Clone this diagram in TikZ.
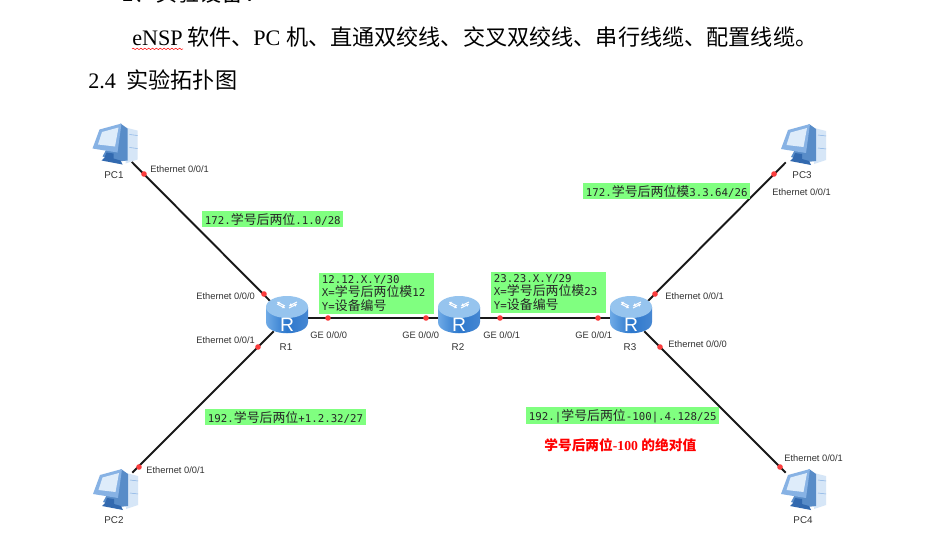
\documentclass[tikz,border=0pt]{standalone}
\usepackage{fontspec}
\setmainfont{Liberation Serif}
\setsansfont{Liberation Sans}
\newfontfamily\cnfont{Noto Sans CJK SC}
\newfontfamily\labcjk[Scale=1.2]{Noto Sans CJK SC}
\newfontfamily\labmono{DejaVu Sans Mono}
\newcommand{\cn}[1]{{\cnfont #1}}
\newcommand{\lc}[1]{{\labcjk #1}}
\usetikzlibrary{positioning,arrows.meta,decorations.pathmorphing}
\definecolor{ipgreen}{RGB}{128,255,128}
\definecolor{linkblack}{RGB}{25,25,25}
\definecolor{labgray}{RGB}{50,50,50}
\definecolor{portred}{RGB}{250,60,60}
\definecolor{pctower}{RGB}{214,230,247}
\definecolor{pcside}{RGB}{88,140,200}
\definecolor{pcframe}{RGB}{135,178,228}
\definecolor{pcscreen}{RGB}{222,236,250}
\definecolor{pcstand}{RGB}{50,105,175}
\definecolor{routertop}{RGB}{150,196,238}
\tikzset{
    bodytext/.style={anchor=base west,inner sep=0pt,font=\fontsize{12.6}{15}\selectfont},
    ipbox/.style={anchor=north west,fill=ipgreen,text=black!85,inner xsep=1.5pt,inner ysep=1pt,align=left,font=\labmono\fontsize{6.12}{7.9}\selectfont},
    iflabel/.style={anchor=west,inner sep=0pt,text=labgray,font=\sffamily\fontsize{5.3}{6}\selectfont},
    devlabel/.style={inner sep=0pt,text=labgray,font=\sffamily\fontsize{5.6}{7}\selectfont},
    pcnode/.style={minimum width=0.68cm,minimum height=0.68cm,inner sep=0pt},
    routernode/.style={minimum width=0.84cm,minimum height=0.52cm,inner sep=0pt},
    link/.style={draw=linkblack,line width=1.1pt},
    pics/pcicon/.style={code={
        \begin{scope}[shift={(-22,-22)}]
            \fill[pctower] (33,5) -- (45,8) -- (45,37) -- (33,41) -- cycle;
            \fill[pcside] (28,1) -- (35,6) -- (35,38) -- (26,39) -- (10,34) -- cycle;
            \fill[pcframe] (7,7) -- (29,1) -- (25,30) -- (0,26) -- cycle;
            \fill[pcscreen] (9.5,9.5) -- (26,5) -- (22.5,24) -- (5.5,22) -- cycle;
            \fill[pcstand] (12,35) -- (9,38) -- (30,42) -- (28,38) -- (21,36) -- (21,31) -- (14,30) -- cycle;
            \draw[pcframe,line width=0.3pt] (37,12) -- (45,13) (37,25) -- (45,26);
        \end{scope}
    }},
    pics/routericon/.style={code={
        \shade[left color={rgb,255:red,110;green,170;blue,230},right color={rgb,255:red,70;green,135;blue,210},middle color={rgb,255:red,45;green,120;blue,205}]
            (-21,-11) -- (-21,4) .. controls (-21,19) and (21,19) .. (21,4) -- (21,-11) -- cycle;
        \fill[routertop] (0,-11) ellipse (21 and 11);
        \foreach \dx/\dy in {-2/-12,2/-10} {
            \draw[white,line width=0.6pt,-{Stealth[length=1.8pt,width=2pt]}] (\dx,\dy) -- (5*\dx,\dy-4);
            \draw[white,line width=0.6pt,{Stealth[length=1.8pt,width=2pt]}-] (-\dx,\dy) -- (-5*\dx,\dy-4);
        }
        \node[inner sep=0pt,text=white,font=\sffamily\fontsize{11}{11}\selectfont] (rletter) at (0,7) {R};
    }}
}
\begin{document}
\begin{tikzpicture}[x=0.02cm,y=-0.02cm]
    \clip (0,0) rectangle (952,541);
    \fill[white] (0,0) rectangle (952,541);

    \node[bodytext] (devtitle) at (122,2) {2\cn{、实验设备：}};
    \node[bodytext] (ensp) at (132,45) {eNSP};
    \node[bodytext,base right=2pt of ensp] (tools) {\cn{软件、}PC \cn{机、直通双绞线、交叉双绞线、串行线缆、配置线缆。}};
    \node[bodytext] (toposec) at (88,88) {2.4\hspace{6pt}\cn{实验拓扑图}};
    \draw[red,line width=0.3pt,decorate,decoration={snake,amplitude=0.4pt,segment length=2.2pt}] ([yshift=-2.2pt]ensp.base west) -- ([yshift=-2.2pt]ensp.base east);

    \node[pcnode] (pc1) at (114.5,144.5) {};
    \node[pcnode] (pc2) at (115,490) {};
    \node[pcnode] (pc3) at (803,145) {};
    \node[pcnode] (pc4) at (803,490) {};
    \node[routernode] (r1) at (287,318) {};
    \node[routernode] (r2) at (459,318) {};
    \node[routernode] (r3) at (631,318) {};

    \draw[link] (pc1) -- (r1);
    \draw[link] (pc2) -- (r1);
    \draw[link] (pc3) -- (r3);
    \draw[link] (pc4) -- (r3);
    \draw[link] (r1) -- (r2);
    \draw[link] (r2) -- (r3);

    \foreach \n in {pc1,pc2,pc3,pc4} {\pic at (\n) {pcicon};}
    \foreach \n in {r1,r2,r3} {\pic at (\n) {routericon};}

    \foreach \x/\y in {144/174,264/294,258/347,328/318,426/318,500/318,598/318,655/294,660/347,139/467,774/174,780/467} {
        \fill[portred] (\x,\y) circle (2.8);
    }

    \node[devlabel] (pc1name) at (114,175) {PC1};
    \node[devlabel] (pc2name) at (114,520) {PC2};
    \node[devlabel] (pc3name) at (802,175) {PC3};
    \node[devlabel] (pc4name) at (803,520) {PC4};
    \node[devlabel] (r1name) at (286,347) {R1};
    \node[devlabel] (r2name) at (458,347) {R2};
    \node[devlabel] (r3name) at (630,347) {R3};

    \node[iflabel] (pc1eth) at (150,169) {Ethernet 0/0/1};
    \node[iflabel] (pc2eth) at (146,470) {Ethernet 0/0/1};
    \node[iflabel] (pc3eth) at (772,192) {Ethernet 0/0/1};
    \node[iflabel] (pc4eth) at (784,458) {Ethernet 0/0/1};
    \node[iflabel] (r1eth0) at (196,296) {Ethernet 0/0/0};
    \node[iflabel] (r1eth1) at (196,340) {Ethernet 0/0/1};
    \node[iflabel] (r3eth1) at (665,296) {Ethernet 0/0/1};
    \node[iflabel] (r3eth0) at (668,344) {Ethernet 0/0/0};
    \node[iflabel] (r1ge) at (310,335) {GE 0/0/0};
    \node[iflabel] (r2gel) at (402,335) {GE 0/0/0};
    \node[iflabel] (r2ger) at (483,335) {GE 0/0/1};
    \node[iflabel] (r3ge) at (575,335) {GE 0/0/1};

    \node[ipbox] (netpc1) at (202,211) {172.\lc{学号后两位}.1.0/28};
    \node[ipbox] (netpc2) at (205,409) {192.\lc{学号后两位}+1.2.32/27};
    \node[ipbox] (netpc3) at (583,183) {172.\lc{学号后两位模}3.3.64/26};
    \node[ipbox] (netpc4) at (526,407) {192.|\lc{学号后两位}-100|.4.128/25};
    \node[ipbox,text width=62pt] (netr12) at (319,273) {12.12.X.Y/30\\X=\lc{学号后两位模}12\\Y=\lc{设备编号}};
    \node[ipbox,text width=62pt] (netr23) at (491,272) {23.23.X.Y/29\\X=\lc{学号后两位模}23\\Y=\lc{设备编号}};

    \node[anchor=west,inner sep=0pt,text=red,font=\bfseries\fontsize{7.8}{9}\selectfont] (absnote) at (544,445) {\cn{学号后两位}-100 \cn{的绝对值}};
\end{tikzpicture}
\end{document}
